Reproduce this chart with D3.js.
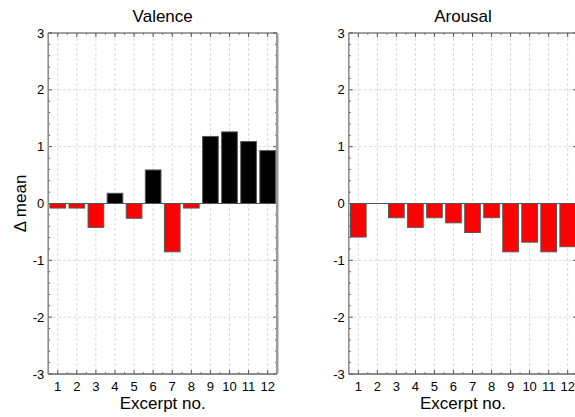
<!DOCTYPE html>
<html>
<head>
<meta charset="utf-8">
<script src="https://cdn.jsdelivr.net/npm/d3@7"></script>
<style>
  html, body { margin: 0; padding: 0; background: #fff; }
  svg { display: block; font-family: "Liberation Sans", Arial, sans-serif; }
</style>
</head>
<body>
<svg id="chart" width="575" height="417"></svg>
<script>
// Excerpt numbers along the x axis
const excerpts = [1, 2, 3, 4, 5, 6, 7, 8, 9, 10, 11, 12];
// Change in mean rating per excerpt
const valence = [-0.08, -0.08, -0.42, 0.18, -0.26, 0.59, -0.85, -0.08, 1.18, 1.26, 1.09, 0.93];
const arousal = [-0.59, 0, -0.25, -0.42, -0.25, -0.34, -0.51, -0.25, -0.85, -0.68, -0.85, -0.76];
const yTicks = [-3, -2, -1, 0, 1, 2, 3];
const panelTitles = ["Valence", "Arousal"];

const svg = d3.select("#chart");
const plotTop = 33, plotBottom = 374;

const panels = [
  { title: panelTitles[0], values: valence, x0: 48.2, x1: 277.2, ylabel: true },
  { title: panelTitles[1], values: arousal, x0: 348.8, x1: 577.2, ylabel: false }
];

const y = d3.scaleLinear().domain([-3, 3]).range([plotBottom, plotTop]);

panels.forEach(p => {
  const x = d3.scaleLinear().domain([0.5, 12.5]).range([p.x0, p.x1]);
  const step = x(2) - x(1);
  const bw = step * 0.82;
  const g = svg.append("g");

  // dashed grid
  g.append("g").selectAll("line").data(excerpts).join("line")
    .attr("x1", d => x(d)).attr("x2", d => x(d))
    .attr("y1", plotTop).attr("y2", plotBottom)
    .attr("stroke", "#d0d0d0").attr("stroke-dasharray", "3,2").attr("stroke-width", 0.8);
  g.append("g").selectAll("line").data(yTicks.filter(t => t !== 0 && Math.abs(t) !== 3)).join("line")
    .attr("x1", p.x0).attr("x2", p.x1)
    .attr("y1", d => y(d)).attr("y2", d => y(d))
    .attr("stroke", "#d0d0d0").attr("stroke-dasharray", "3,2").attr("stroke-width", 0.8);

  // minor / major ticks pointing inward
  const xMinor = d3.range(1.5, 12.5, 1);
  const yMinor = d3.range(-3, 3.001, 0.2).filter(v => Math.abs(v - Math.round(v)) > 1e-6);
  const tickG = g.append("g").attr("stroke", "#555").attr("stroke-width", 1);
  excerpts.forEach(d => {
    tickG.append("line").attr("x1", x(d)).attr("x2", x(d)).attr("y1", plotBottom).attr("y2", plotBottom - 4);
    tickG.append("line").attr("x1", x(d)).attr("x2", x(d)).attr("y1", plotTop).attr("y2", plotTop + 4);
  });
  xMinor.forEach(d => {
    tickG.append("line").attr("x1", x(d)).attr("x2", x(d)).attr("y1", plotBottom).attr("y2", plotBottom - 2).attr("stroke", "#888");
    tickG.append("line").attr("x1", x(d)).attr("x2", x(d)).attr("y1", plotTop).attr("y2", plotTop + 2).attr("stroke", "#888");
  });
  yTicks.forEach(d => {
    tickG.append("line").attr("x1", p.x0).attr("x2", p.x0 + 4).attr("y1", y(d)).attr("y2", y(d));
    tickG.append("line").attr("x1", p.x1).attr("x2", p.x1 - 4).attr("y1", y(d)).attr("y2", y(d));
  });
  yMinor.forEach(d => {
    tickG.append("line").attr("x1", p.x0).attr("x2", p.x0 + 2).attr("y1", y(d)).attr("y2", y(d));
    tickG.append("line").attr("x1", p.x1).attr("x2", p.x1 - 2).attr("y1", y(d)).attr("y2", y(d));
  });

  // zero baseline
  g.append("line").attr("x1", p.x0).attr("x2", p.x1)
    .attr("y1", y(0)).attr("y2", y(0)).attr("stroke", "#555").attr("stroke-width", 1);

  // bars
  g.append("g").selectAll("rect").data(excerpts.map((e, i) => ({ e, v: p.values[i] })).filter(d => d.v !== 0))
    .join("rect")
    .attr("x", d => x(d.e) - bw / 2)
    .attr("width", bw)
    .attr("y", d => y(Math.max(0, d.v)))
    .attr("height", d => Math.abs(y(d.v) - y(0)))
    .attr("fill", d => d.v > 0 ? "#000" : "#ff0000")
    .attr("stroke", "#555").attr("stroke-width", 1);

  // frame
  g.append("line").attr("x1", p.x0).attr("x2", p.x1).attr("y1", plotTop).attr("y2", plotTop).attr("stroke", "#444").attr("stroke-width", 1.2);
  g.append("line").attr("x1", p.x0).attr("x2", p.x1).attr("y1", plotBottom).attr("y2", plotBottom).attr("stroke", "#666").attr("stroke-width", 1.5);
  g.append("line").attr("x1", p.x0).attr("x2", p.x0).attr("y1", plotTop).attr("y2", plotBottom).attr("stroke", "#888").attr("stroke-width", 1.5);
  g.append("line").attr("x1", p.x1).attr("x2", p.x1).attr("y1", plotTop).attr("y2", plotBottom).attr("stroke", "#999").attr("stroke-width", 2.5);

  // tick labels
  g.append("g").selectAll("text").data(excerpts).join("text")
    .attr("x", d => x(d)).attr("y", 391)
    .attr("text-anchor", "middle").attr("font-size", 13).attr("fill", "#000")
    .text(d => d);
  g.append("g").selectAll("text").data(yTicks).join("text")
    .attr("x", p.x0 - 4).attr("y", d => y(d) + 4.6)
    .attr("text-anchor", "end").attr("font-size", 13).attr("fill", "#000")
    .text(d => d);

  // titles
  g.append("text").attr("x", (p.x0 + p.x1) / 2).attr("y", 22)
    .attr("text-anchor", "middle").attr("font-size", 17).text(p.title);
  g.append("text").attr("x", (p.x0 + p.x1) / 2).attr("y", 409)
    .attr("text-anchor", "middle").attr("font-size", 17).text("Excerpt no.");
  if (p.ylabel) {
    g.append("text").attr("transform", `translate(26,${(plotTop + plotBottom) / 2}) rotate(-90)`)
      .attr("text-anchor", "middle").attr("font-size", 17).text("Δ mean");
  }
});
</script>
</body>
</html>
